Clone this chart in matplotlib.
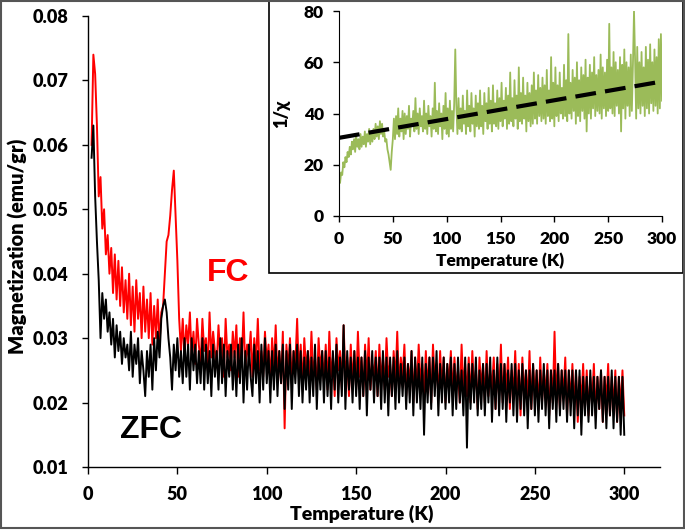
import numpy as np
import matplotlib
matplotlib.use("Agg")
import matplotlib.pyplot as plt
from matplotlib.patches import Rectangle

plt.rcParams['font.family'] = ['Lato', 'DejaVu Sans']
plt.rcParams['font.weight'] = 'bold'

# main panel: magnetization, in units of 1e-3 emu/gr, T = 2..300 K (1 K steps)
T_MAIN_START, T_MAIN_END = 2, 300
FC_MILLI = [
    60, 74, 71, 63, 52, 55, 47, 50, 43, 46,
    40, 44, 37, 43, 36, 42, 35, 41, 34, 39,
    33, 40, 32, 38, 31, 39, 33, 37, 30, 38,
    31, 36, 30, 37, 29, 35, 30, 36, 29, 34,
    35, 40, 45, 46, 49, 53, 56, 49, 42, 33,
    28, 33, 27, 32, 29, 34, 27, 31, 26, 33,
    29, 26, 33, 28, 30, 25, 34, 27, 31, 28,
    26, 32, 27, 30, 24, 33, 27, 29, 25, 31,
    27, 32, 24, 30, 26, 34, 25, 29, 27, 31,
    24, 30, 26, 33, 25, 28, 24, 31, 26, 29,
    23, 30, 25, 32, 24, 28, 23, 31, 16, 29,
    25, 30, 23, 28, 26, 33, 24, 29, 22, 30,
    25, 28, 23, 31, 24, 27, 22, 30, 25, 28,
    23, 29, 22, 31, 24, 27, 21, 30, 25, 28,
    22, 32, 24, 27, 21, 29, 23, 28, 22, 31,
    24, 27, 21, 29, 23, 30, 22, 26, 24, 28,
    21, 29, 23, 27, 22, 30, 24, 26, 21, 28,
    23, 31, 22, 27, 24, 29, 21, 26, 23, 28,
    20, 27, 22, 29, 23, 26, 21, 28, 22, 27,
    20, 29, 23, 26, 21, 28, 22, 27, 20, 26,
    23, 28, 21, 27, 22, 25, 20, 29, 22, 26,
    21, 27, 20, 28, 22, 25, 19, 27, 22, 26,
    20, 28, 21, 25, 22, 27, 19, 26, 21, 29,
    20, 26, 22, 27, 19, 25, 21, 28, 20, 26,
    18, 27, 21, 25, 20, 28, 19, 26, 21, 25,
    19, 27, 20, 25, 21, 26, 18, 25, 20, 31,
    20, 26, 19, 25, 21, 27, 18, 25, 20, 26,
    19, 25, 17, 24, 20, 26, 19, 25, 18, 24,
    20, 26, 18, 24, 19, 25, 17, 24, 20, 26,
    18, 24, 19, 25, 17, 24, 19, 25, 18,
]
ZFC_MILLI = [
    58, 63, 52, 45, 39, 30, 37, 33, 36, 31,
    34, 29, 33, 27, 32, 28, 31, 26, 30, 27,
    29, 25, 31, 24, 29, 26, 30, 23, 28, 25,
    21, 28, 24, 29, 22, 30, 25, 31, 27, 33,
    35, 36, 34, 30, 27, 22, 29, 25, 30, 24,
    28, 23, 30, 24, 29, 22, 30, 25, 29, 23,
    28, 23, 30, 22, 29, 23, 28, 21, 29, 24,
    28, 22, 30, 23, 29, 21, 28, 24, 29, 22,
    28, 21, 29, 23, 30, 20, 28, 22, 29, 24,
    21, 29, 23, 28, 20, 29, 22, 30, 23, 28,
    20, 28, 22, 29, 21, 28, 23, 29, 19, 28,
    22, 29, 19, 28, 23, 29, 21, 28, 20, 27,
    22, 28, 20, 27, 21, 29, 19, 27, 22, 28,
    20, 28, 21, 27, 19, 28, 22, 29, 20, 27,
    21, 32, 19, 28, 22, 27, 20, 28, 21, 27,
    19, 27, 21, 28, 18, 27, 22, 28, 20, 27,
    21, 27, 19, 28, 20, 27, 18, 27, 21, 27,
    19, 28, 20, 26, 21, 27, 19, 26, 20, 28,
    18, 27, 20, 26, 19, 27, 15, 26, 20, 27,
    19, 27, 21, 28, 18, 26, 20, 27, 19, 26,
    20, 27, 18, 26, 19, 27, 20, 25, 18, 27,
    13, 26, 19, 26, 20, 27, 18, 25, 19, 26,
    18, 26, 20, 27, 17, 25, 19, 27, 18, 26,
    19, 26, 17, 25, 20, 26, 18, 26, 17, 25,
    19, 26, 18, 25, 16, 25, 19, 26, 18, 25,
    17, 25, 19, 26, 18, 25, 16, 25, 19, 25,
    17, 26, 18, 25, 19, 25, 17, 25, 18, 25,
    16, 25, 18, 25, 15, 24, 18, 24, 17, 25,
    18, 24, 16, 24, 19, 25, 17, 24, 16, 24,
    18, 25, 16, 24, 17, 24, 15, 24, 15,
]

# inset: inverse susceptibility, T = 1..300 K
T_INSET_START, T_INSET_END = 1, 300
INV_CHI = [
    13, 17, 16, 21, 19, 23, 21, 25, 23, 27,
    24, 29, 26, 30, 25, 31, 27, 30, 26, 32,
    27, 31, 28, 33, 27, 32, 29, 34, 28, 33,
    29, 34, 30, 36, 31, 35, 30, 37, 32, 36,
    31, 33, 29, 30, 26, 24, 21, 18, 25, 30,
    38, 30, 39, 32, 42, 31, 38, 33, 41, 30,
    40, 32, 39, 34, 43, 31, 38, 35, 41, 33,
    46, 34, 40, 32, 42, 35, 39, 33, 45, 34,
    40, 32, 43, 35, 39, 31, 42, 34, 52, 33,
    41, 32, 44, 35, 40, 30, 43, 34, 48, 32,
    42, 31, 45, 34, 41, 33, 44, 65, 43, 32,
    46, 34, 42, 33, 47, 36, 41, 32, 49, 35,
    43, 33, 48, 36, 42, 31, 47, 35, 44, 34,
    49, 35, 43, 32, 48, 37, 44, 34, 50, 36,
    45, 33, 51, 36, 44, 35, 49, 34, 46, 37,
    52, 35, 45, 38, 50, 34, 47, 36, 56, 37,
    46, 35, 53, 38, 47, 34, 58, 37, 48, 36,
    54, 38, 47, 33, 52, 37, 48, 35, 51, 36,
    56, 38, 49, 36, 55, 39, 50, 37, 54, 38,
    51, 36, 57, 39, 49, 37, 62, 38, 52, 35,
    58, 39, 51, 37, 56, 40, 50, 38, 59, 39,
    53, 37, 71, 40, 52, 38, 57, 41, 54, 36,
    60, 39, 53, 37, 58, 41, 55, 38, 61, 33,
    54, 40, 59, 38, 56, 42, 62, 39, 55, 41,
    57, 40, 63, 38, 58, 42, 56, 39, 61, 41,
    75, 42, 58, 40, 64, 39, 60, 43, 57, 40,
    62, 33, 59, 42, 65, 38, 60, 43, 58, 39,
    63, 41, 59, 80, 61, 38, 66, 42, 60, 40,
    64, 43, 58, 39, 66, 42, 61, 40, 67, 44,
    60, 41, 65, 43, 62, 40, 69, 42, 71, 45,
]

# linear fit shown as dashed line in the inset
FIT_T = [0, 300]
FIT_INV_CHI = [30.5, 52.5]

MAIN_XTICKS = [0, 50, 100, 150, 200, 250, 300]
MAIN_YTICKS = [0.01, 0.02, 0.03, 0.04, 0.05, 0.06, 0.07, 0.08]
INSET_YTICKS = [0, 20, 40, 60, 80]

t_main = np.arange(T_MAIN_START, T_MAIN_END + 1)
t_inset = np.arange(T_INSET_START, T_INSET_END + 1)
fc = np.array(FC_MILLI) * 1e-3
zfc = np.array(ZFC_MILLI) * 1e-3

fig = plt.figure(figsize=(6.85, 5.3), dpi=100)

ax = fig.add_axes([88 / 685, 1 - 467 / 530, 572 / 685, 451 / 530])
ax.plot(t_main, fc, color='#ff0000', lw=1.4)
ax.plot(t_main, zfc, color='black', lw=1.4)
ax.set_xlim(0, 320)
ax.set_ylim(0.01, 0.08)
ax.set_xticks(MAIN_XTICKS)
ax.set_yticks(MAIN_YTICKS)
ax.set_yticklabels([f"{v:.2f}" for v in MAIN_YTICKS])
for s in ['top', 'right']:
    ax.spines[s].set_visible(False)
for s in ['left', 'bottom']:
    ax.spines[s].set_linewidth(1.0)
ax.tick_params(axis='y', direction='out', length=4, width=1, pad=10, labelsize=13)
ax.tick_params(axis='x', direction='out', length=5, width=1, pad=9, labelsize=13)
for lab in ax.get_xticklabels() + ax.get_yticklabels():
    lab.set_fontweight('heavy')
ax.set_xlabel('Temperature (K)', fontsize=14, fontweight='heavy')
ax.set_ylabel('Magnetization (emu/gr)', fontsize=14.5, fontweight='heavy')
ax.xaxis.set_label_coords(0.479, -0.083)
ax.yaxis.set_label_coords(-0.105, 0.49)

ax.text(228 / 685, 1 - 273 / 530, 'FC', transform=fig.transFigure, color='#ff0000',
        fontsize=23, fontweight='bold', family='Liberation Sans', ha='center', va='center')
ax.text(151 / 685, 1 - 430 / 530, 'ZFC', transform=fig.transFigure, color='black',
        fontsize=23, fontweight='bold', family='Liberation Sans', ha='center', va='center')

# inset frame
fig.patches.append(Rectangle((269 / 685, 1 - 273 / 530), 414 / 685, 272 / 530,
                             transform=fig.transFigure, facecolor='white',
                             edgecolor='black', lw=1.2, zorder=2))

ins = fig.add_axes([339 / 685, 1 - 216 / 530, 323 / 685, 205 / 530], zorder=3)
ins.plot(t_inset, INV_CHI, color='#9bbb59', lw=1.3)
ins.plot(FIT_T, FIT_INV_CHI, color='black', lw=3, dashes=(5, 2.2))
ins.set_xlim(0, 300)
ins.set_ylim(0, 80)
ins.set_xticks(MAIN_XTICKS)
ins.set_yticks(INSET_YTICKS)
for s in ['top', 'right']:
    ins.spines[s].set_visible(False)
ins.tick_params(axis='both', direction='out', length=4, width=1, pad=7, labelsize=12.5)
for lab in ins.get_xticklabels() + ins.get_yticklabels():
    lab.set_fontweight('heavy')
ins.set_xlabel('Temperature (K)', fontsize=12.5, fontweight='heavy', labelpad=4)
ins.set_ylabel('1/χ', fontsize=13, fontweight='heavy', labelpad=10)
ins.patch.set_alpha(0)

# outer border of the picture
fig.patches.append(Rectangle((0.002, 0.003), 0.996, 0.995, transform=fig.transFigure,
                             facecolor='none', edgecolor='#555555', lw=1.5, zorder=5))

fig.savefig('out.png', dpi=100)
